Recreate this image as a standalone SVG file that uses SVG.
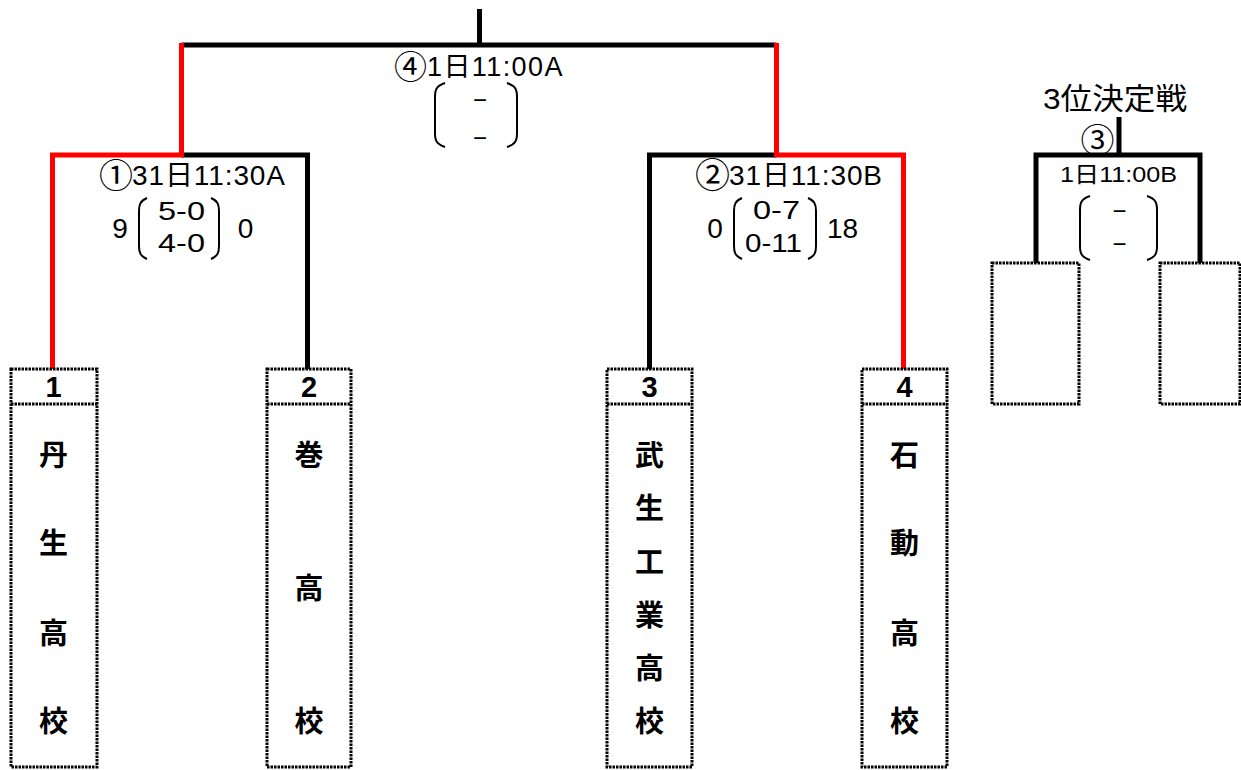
<svg xmlns="http://www.w3.org/2000/svg" width="1241" height="770" viewBox="0 0 1241 770">
<style>
  .bk{fill:none;stroke:#000;stroke-width:5;stroke-linejoin:miter;stroke-linecap:butt}
  .rd{fill:none;stroke:#FF0000;stroke-width:5;stroke-linejoin:miter;stroke-linecap:butt}
  .box{fill:#fff;stroke:#000;stroke-width:3;stroke-dasharray:2.5 1}
  .paren{fill:none;stroke:#000;stroke-width:2}
  text{font-family:"Liberation Sans","Noto Sans CJK JP",sans-serif;fill:#000}
  .circ{font-family:"Noto Sans CJK JP",sans-serif}
  .sc{font-size:28px;text-anchor:middle}
  .sm{font-size:25px}
  .dash{font-size:24px;text-anchor:middle;dominant-baseline:central}
  .num{font-size:29px;font-weight:bold;text-anchor:middle}
  .nm{font-family:"Noto Sans CJK JP","Liberation Sans",sans-serif;font-size:29px;font-weight:bold;text-anchor:middle;dominant-baseline:central}
</style>
<rect width="1241" height="770" fill="#fff"/>
<g id="connectors">
  <path class="bk" d="M479.5,9 V45"/>
  <path class="bk" d="M181.5,45 H776.5"/>
  <path class="bk" d="M181.5,155 H307.5 V370"/>
  <path class="bk" d="M776.5,155 H649.5 V370"/>
  <path class="rd" d="M181.5,43 V155 H52.5 V370"/>
  <path class="rd" d="M776.5,43 V155 H903.5 V370"/>
  <path class="bk" d="M1119,117 V155"/>
  <path class="bk" d="M1036,263 V155 H1200 V263"/>
</g>
<g id="team-1">
  <rect class="box" x="11" y="369" width="86" height="398"/>
  <line class="box" x1="11" y1="404" x2="97" y2="404"/>
  <text class="num" x="53.5" y="397">1</text>
  <text class="nm" x="53.5" y="453">丹</text>
  <text class="nm" x="53.5" y="541">生</text>
  <text class="nm" x="53.5" y="631">高</text>
  <text class="nm" x="53.5" y="719">校</text>
</g>
<g id="team-2">
  <rect class="box" x="267" y="369" width="84" height="398"/>
  <line class="box" x1="267" y1="404" x2="351" y2="404"/>
  <text class="num" x="309" y="397">2</text>
  <text class="nm" x="309" y="453">巻</text>
  <text class="nm" x="309" y="586">高</text>
  <text class="nm" x="309" y="719">校</text>
</g>
<g id="team-3">
  <rect class="box" x="607" y="369" width="85" height="398"/>
  <line class="box" x1="607" y1="404" x2="692" y2="404"/>
  <text class="num" x="649.5" y="397">3</text>
  <text class="nm" x="649.5" y="453">武</text>
  <text class="nm" x="649.5" y="506">生</text>
  <text class="nm" x="649.5" y="560">工</text>
  <text class="nm" x="649.5" y="613">業</text>
  <text class="nm" x="649.5" y="666">高</text>
  <text class="nm" x="649.5" y="719">校</text>
</g>
<g id="team-4">
  <rect class="box" x="862" y="369" width="85" height="398"/>
  <line class="box" x1="862" y1="404" x2="947" y2="404"/>
  <text class="num" x="904.5" y="397">4</text>
  <text class="nm" x="904.5" y="453">石</text>
  <text class="nm" x="904.5" y="541">動</text>
  <text class="nm" x="904.5" y="631">高</text>
  <text class="nm" x="904.5" y="719">校</text>
</g>
<g id="third-left">
  <rect class="box" x="992" y="263" width="87" height="141"/>
</g>
<g id="third-right">
  <rect class="box" x="1160" y="263" width="80" height="141"/>
</g>
<g id="match-4">
  <text x="394" y="76"><tspan class="circ" font-size="33" dy="3">④</tspan><tspan font-size="27" dx="0" dy="-3" letter-spacing="1.4">1日11:00A</tspan></text>
  <path class="paren" d="M445,83 C436,86 435,90 435,97 V133 C435,140 436,144 445,147"/>
  <path class="paren" d="M507,83 C516,86 517,90 517,97 V133 C517,140 516,144 507,147"/>
  <text class="dash" x="480" y="99">−</text>
  <text class="dash" x="480" y="137">−</text>
</g>
<g id="match-1">
  <text x="99" y="185"><tspan class="circ" font-size="34" dy="3">①</tspan><tspan font-size="28" dx="-1" dy="-3" letter-spacing="0.9">31日11:30A</tspan></text>
  <path class="paren" d="M147,198 C140,201 139,205 139,211 V246 C139,252 140,256 147,259"/>
  <path class="paren" d="M211,198 C218,201 219,205 219,211 V246 C219,252 218,256 211,259"/>
  <text class="sc" x="120" y="238">9</text>
  <text class="sm" x="158" y="220" textLength="47" lengthAdjust="spacingAndGlyphs">5-0</text>
  <text class="sm" x="158" y="252" textLength="47" lengthAdjust="spacingAndGlyphs">4-0</text>
  <text class="sc" x="245.5" y="238">0</text>
</g>
<g id="match-2">
  <text x="695" y="185"><tspan class="circ" font-size="35" dy="3">②</tspan><tspan font-size="28" dx="-1" dy="-3" letter-spacing="0.9">31日11:30B</tspan></text>
  <path class="paren" d="M742,198 C735,201 734,205 734,211 V246 C734,252 735,256 742,259"/>
  <path class="paren" d="M808,198 C815,201 816,205 816,211 V246 C816,252 815,256 808,259"/>
  <text class="sc" x="715" y="238">0</text>
  <text class="sm" x="753" y="219" textLength="47" lengthAdjust="spacingAndGlyphs">0-7</text>
  <text class="sm" x="745" y="252" textLength="57" lengthAdjust="spacingAndGlyphs">0-11</text>
  <text class="sc" x="842.5" y="238">18</text>
</g>
<g id="match-3">
  <text x="1043" y="109" font-size="30" textLength="144" lengthAdjust="spacingAndGlyphs">3位決定戦</text>
  <text class="circ" x="1097.5" y="138" font-size="34" text-anchor="middle" dominant-baseline="central">③</text>
  <text x="1060" y="182" font-size="22" textLength="117" lengthAdjust="spacingAndGlyphs">1日11:00B</text>
  <path class="paren" d="M1090,196 C1081,199 1080,203 1080,210 V246 C1080,253 1081,257 1090,260"/>
  <path class="paren" d="M1147,196 C1156,199 1157,203 1157,210 V246 C1157,253 1156,257 1147,260"/>
  <text class="dash" x="1119.5" y="210">−</text>
  <text class="dash" x="1119.5" y="243">−</text>
</g>
</svg>
